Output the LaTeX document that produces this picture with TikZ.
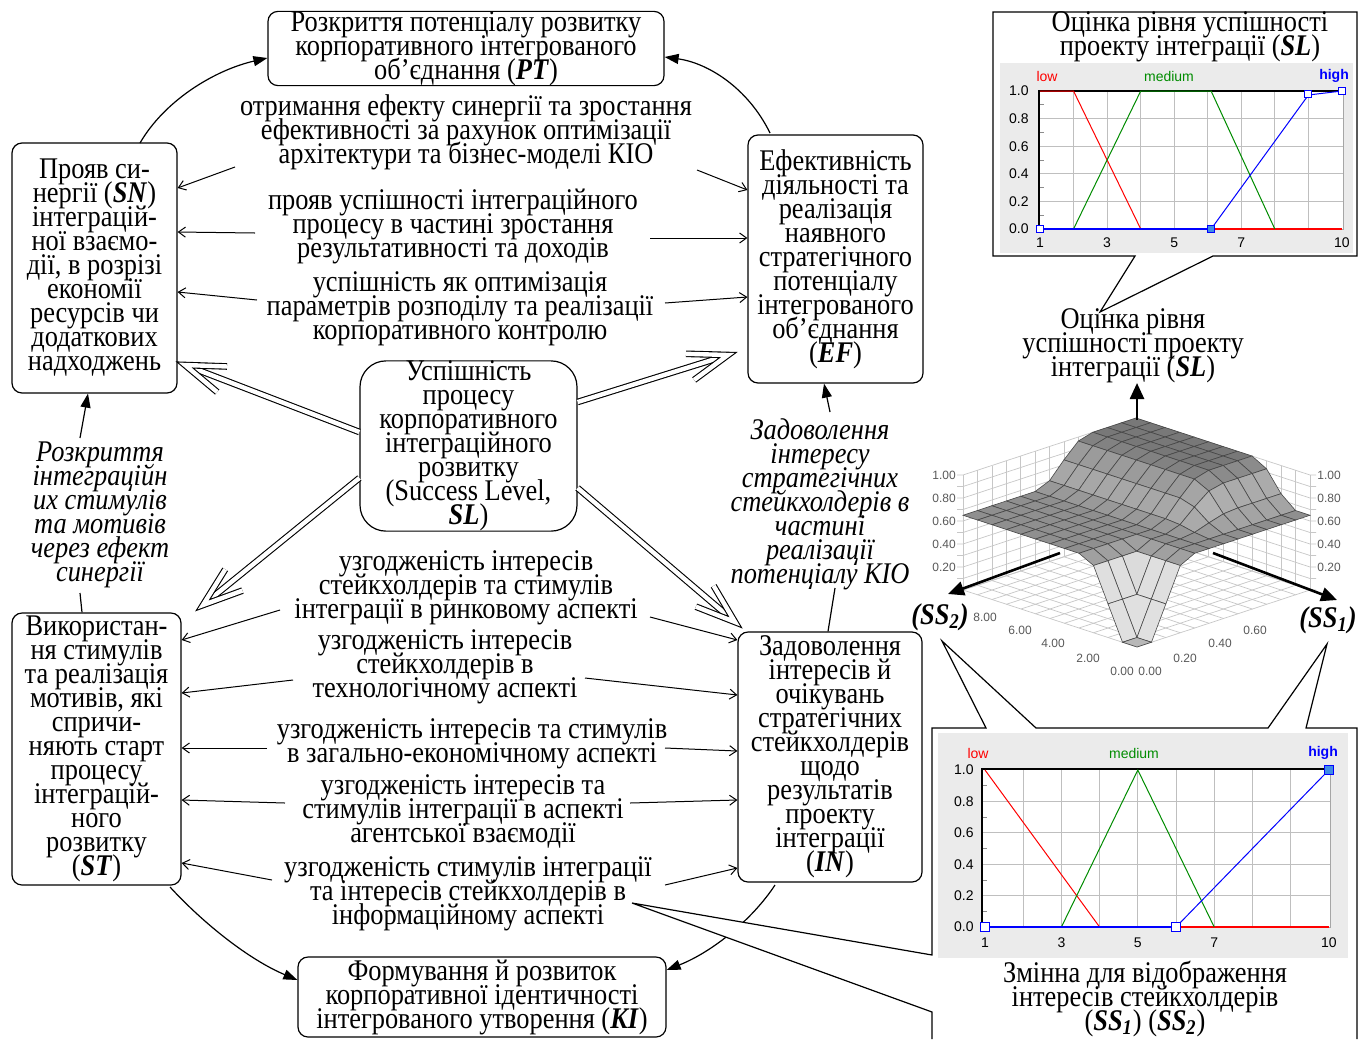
\documentclass[tikz,border=0pt]{standalone}
\usepackage{fontspec}
\setmainfont{Liberation Serif}[FakeStretch=0.88]
\newfontfamily\chartfont{Liberation Sans}
\usetikzlibrary{arrows.meta,calc}
\newcommand\bi[1]{\textbf{\textit{#1}}}
\newcommand\fb{\fontsize{15}{12}\selectfont\lineskiplimit=-\maxdimen\lineskip=0pt\relax}
\def\huA{{0,0,0,0,0,0,0.15,0.55,0.9,1,1,1,1}}
\def\hvA{{0,0,0.3,0.8,1,1,1,1,1,1,1,1,1}}
\def\pA{{0,0,0.45,0.9,1,1,1,1,1,1,1,1,1}}
\newcommand\zval[3]{%
  \pgfmathtruncatemacro\tmpm{max(#2,#3)}%
  \pgfmathsetmacro#1{(0.65+0.35*\huA[#2]*\hvA[#3])*\pA[\tmpm]}%
}
\definecolor{mfred}{rgb}{1,0,0}
\definecolor{mfgreen}{rgb}{0,0.55,0}
\definecolor{mfblue}{rgb}{0,0,1}
\definecolor{mkfill}{rgb}{0.25,0.55,0.9}
\tikzset{
 box/.style={draw, line width=0.6pt, rounded corners=5pt, align=center, font=\fb, inner sep=0pt},
 lbl/.style={align=center, font=\fb, inner sep=1pt},
 ilbl/.style={align=center, font=\fb\itshape, inner sep=1pt},
 ar/.style={line width=0.5pt, -{Straight Barb[length=3.5pt,width=5pt]}},
 car/.style={line width=0.6pt, -{Triangle[length=7pt,width=5pt]}},
 dbl/.style={double, double distance=2.2pt, line width=0.55pt, line join=miter},
 grd/.style={black!22, line width=0.35pt},
 cgrid/.style={black!25, line width=0.4pt},
 ax3/.style={line width=1.3pt, -{Triangle[length=8pt,width=7pt]}},
 tk/.style={font=\chartfont\fontsize{6}{6}\selectfont, text=black!65, inner sep=0pt},
 ct/.style={font=\chartfont\fontsize{7}{7}\selectfont, inner sep=0pt},
 mk/.style={draw=mfblue, line width=0.5pt, fill=white, minimum size=3.5pt, inner sep=0pt, rectangle},
}
\begin{document}
\begin{tikzpicture}[x=0.5pt,y=-0.5pt]
\useasboundingbox (0,0) rectangle (1368,1039);
\fill[white] (0,0) rectangle (1368,1039);

% ---------- main boxes ----------
\node[box, minimum width=198pt, minimum height=35.5pt] (PT) at (466,48.5) {Розкриття потенціалу розвитку\\корпоративного інтегрованого\\об'єднання (\bi{PT})};
\node[box, minimum width=82.5pt, minimum height=125pt] (SN) at (94.5,268) {Прояв си-\\нергії (\bi{SN})\\інтеграцій-\\ної взаємо-\\дії, в розрізі\\економії\\ресурсів чи\\додаткових\\надходжень};
\node[box, minimum width=87.5pt, minimum height=124pt] (EF) at (835.5,259) {Ефективність\\діяльності та\\реалізація\\наявного\\стратегічного\\потенціалу\\інтегрованого\\об'єднання\\(\bi{EF})};
\node[box, rounded corners=13pt, minimum width=108.5pt, minimum height=84pt] (SL) at (468.5,446) {Успішність\\процесу\\корпоративного\\інтеграційного\\розвитку\\(Success Level,\\\bi{SL})};
\node[box, minimum width=84.5pt, minimum height=136pt] (ST) at (96.5,749) {Використан-\\ня стимулів\\та реалізація\\мотивів, які\\спричи-\\няють старт\\процесу\\інтеграцій-\\ного\\розвитку\\(\bi{ST})};
\node[box, minimum width=92pt, minimum height=125pt] (IN) at (830,757) {Задоволення\\інтересів й\\очікувань\\стратегічних\\стейкхолдерів\\щодо\\результатів\\проекту\\інтеграції\\(\bi{IN})};
\node[box, minimum width=184pt, minimum height=40pt] (KI) at (482,997) {Формування й розвиток\\корпоративної ідентичності\\інтегрованого утворення (\bi{KI})};

% ---------- labels ----------
\node[lbl] (L1) at (466,132) {отримання ефекту синергії та зростання\\ефективності за рахунок оптимізації\\архітектури та бізнес-моделі КІО};
\node[lbl] (L2) at (453,226) {прояв успішності інтеграційного\\процесу в частині зростання\\результативності та доходів};
\node[lbl] (L3) at (460,309) {успішність як оптимізація\\параметрів розподілу та реалізації\\корпоративного контролю};
\node[ilbl] (L4) at (100,515) {Розкриття\\інтеграційн\\их стимулів\\та мотивів\\через ефект\\синергії};
\node[ilbl] (L5) at (820,504) {Задоволення\\інтересу\\стратегічних\\стейкхолдерів в\\частині\\реалізації\\потенціалу КІО};
\node[lbl] (L6) at (466,588) {узгодженість інтересів\\стейкхолдерів та стимулів\\інтеграції в ринковому аспекті};
\node[lbl] (L7) at (445,667) {узгодженість інтересів\\стейкхолдерів в\\технологічному аспекті};
\node[lbl] (L8) at (472,744) {узгодженість інтересів та стимулів\\в загально-економічному аспекті};
\node[lbl] (L9) at (463,811) {узгодженість інтересів та\\стимулів інтеграції в аспекті\\агентської взаємодії};
\node[lbl] (L10) at (468,894) {узгодженість стимулів інтеграції\\та інтересів стейкхолдерів в\\інформаційному аспекті};

% ---------- thin arrows ----------
\draw[ar] (235,167) -- (SN.east |- 0,188);
\draw[ar] (697,170) -- (EF.west |- 0,190);
\draw[ar] (255,233) -- (SN.east |- 0,232);
\draw[ar] (650,238) -- (EF.west |- 0,238);
\draw[ar] (257,300) -- (SN.east |- 0,292);
\draw[ar] (665,303) -- (EF.west |- 0,297);
\draw[ar] (280,610) -- (ST.east |- 0,640);
\draw[ar] (650,617) -- (IN.west |- 0,640);
\draw[ar] (293,680) -- (ST.east |- 0,693);
\draw[ar] (585,678) -- (IN.west |- 0,695);
\draw[ar] (267,748) -- (ST.east |- 0,748);
\draw[ar] (665,748) -- (IN.west |- 0,751);
\draw[ar] (285,803) -- (ST.east |- 0,800);
\draw[ar] (630,803) -- (IN.west |- 0,800);
\draw[ar] (272,880) -- (ST.east |- 0,863);
\draw[ar] (665,885) -- (IN.west |- 0,868);

% ---------- curved arrows ----------
\draw[car] (140,143) .. controls (165,100) and (215,70) .. (PT.west |- 0,58);
\draw[car] (770,133) .. controls (748,88) and (708,63) .. (PT.east |- 0,57);
\draw[car] (170,887) .. controls (205,925) and (250,960) .. (KI.west |- 0,980);
\draw[car] (775,885) .. controls (752,920) and (712,952) .. (KI.east |- 0,970);
\draw[car] (80,438) -- (SN.south -| 88,0);
\draw[car] (830,412) -- (EF.south -| 824,0);
\draw[line width=0.6pt] (80,593) -- (ST.north -| 82,0);
\draw[line width=0.6pt] (835,588) -- (IN.north -| 828,0);

% ---------- double arrows ----------
\coordinate (dSN) at (185,365);
\coordinate (dEF) at (728,355);
\coordinate (dST) at (203,605);
\coordinate (dIN) at (735,622);
\coordinate (tSN) at (SL.west |- 0,432);
\coordinate (tEF) at (SL.east |- 0,402);
\coordinate (tST) at (SL.west |- 0,478);
\coordinate (tIN) at (SL.east |- 0,488);
\foreach \t/\d in {tSN/dSN,tEF/dEF,tST/dST,tIN/dIN}{
 \draw[dbl, shorten >=2pt] (\t) -- (\d);
 \draw[dbl] ($(\d)!21pt!19:(\t)$) -- (\d) -- ($(\d)!21pt!-19:(\t)$);
}

% ---------- top chart ----------
\draw[line width=0.6pt, fill=white] (993,12) -- (1357,12) -- (1357,256) -- (1213,256) -- (1100,312) -- (1135,256) -- (993,256) -- cycle;
\node[lbl] (T1) at (1190,37) {Оцінка рівня успішності\\проекту інтеграції (\bi{SL})};
\fill[black!8] (1000,63) rectangle (1353,253);
\fill[white] (1039,91) rectangle (1343,229);
\foreach \k in {2,...,9} \draw[cgrid] ({1040+(\k-1)*33.55},91) -- ({1040+(\k-1)*33.55},229);
\foreach \k in {1,...,4} \draw[cgrid] (1039,{229-\k*27.6}) -- (1343,{229-\k*27.6});
\foreach \k in {1,3,5,7,9} \draw[black!45, line width=0.4pt] (1039,{229-\k*13.8}) -- (1044,{229-\k*13.8});
\draw[black!35, line width=0.5pt] (1343,91) -- (1343,229) -- (1039,229);
\draw[line width=1.1pt] (1039,229) -- (1039,91) -- (1343,91);
\draw[mfred, line width=0.5pt] (1040,91) -- (1073.5,91) -- (1140.7,229);
\draw[mfred, line width=1pt] (1140.7,229) -- (1342,229);
\draw[mfgreen, line width=0.5pt] (1073.5,229) -- (1140.7,91) -- (1211.1,91) -- (1274.8,229);
\draw[mfblue, line width=1pt] (1040,229) -- (1211.1,229);
\draw[mfblue, line width=0.5pt] (1211.1,229) -- (1308.4,95) -- (1342,91);
\node[mk] at (1040,229) {};
\node[mk, fill=mkfill] at (1211.1,229) {};
\node[mk] at (1308.4,94) {};
\node[mk] at (1342,91) {};
\node[ct, text=mfred] at (1047,76) {low};
\node[ct, text=mfgreen] at (1169,76) {medium};
\node[ct, text=mfblue, font=\chartfont\fontsize{7}{7}\selectfont\bfseries] at (1334,76) {high};
\foreach \v/\t in {0/0.0,1/0.2,2/0.4,3/0.6,4/0.8,5/1.0} \node[ct, anchor=east] at (1029,{229-\v*27.6}) {\t};
\foreach \v in {1,3,5,7,10} \node[ct] at ({1040+(\v-1)*33.55},243) {\v};

% ---------- 3D surface ----------
\node[lbl] (T2) at (1133,346) {Оцінка рівня\\успішності проекту\\інтеграції (\bi{SL})};
\foreach \k in {0,...,12}{
 \draw[grd] ({1137+173*\k/12},{647-57*\k/12}) -- ({1137+173*\k/12-174},{647-57*\k/12-57});
 \draw[grd] ({1137-174*\k/12},{647-57*\k/12}) -- ({1137+173-174*\k/12},{647-57-57*\k/12});
 \draw[grd] ({963+173*\k/12},{590-57*\k/12}) -- ({963+173*\k/12},{475-57*\k/12});
 \draw[grd] ({1310-174*\k/12},{590-57*\k/12}) -- ({1310-174*\k/12},{475-57*\k/12});
}
\foreach \m in {0,...,10}{
 \draw[grd] (957,{590-11.5*\m}) -- (963,{590-11.5*\m}) -- (1136,{533-11.5*\m}) -- (1310,{590-11.5*\m}) -- (1316,{590-11.5*\m});
}
\foreach \zz/\t in {0.2/0.20,0.4/0.40,0.6/0.60,0.8/0.80,1/1.00}{
 \node[tk] at (944,{590-115*\zz}) {\t};
 \node[tk] at (1329,{590-115*\zz}) {\t};
}
\foreach \i in {11,10,...,0}{
 \foreach \j in {11,10,...,0}{
  \pgfmathtruncatemacro\ii{\i+1}
  \pgfmathtruncatemacro\jj{\j+1}
  \zval\za\i\j
  \zval\zb\ii\j
  \zval\zc\ii\jj
  \zval\zd\i\jj
  \pgfmathsetmacro\g{min(0.88,max(0.33,0.56-0.25*((\za+\zb+\zc+\zd)/4-0.65)+0.9*(\zc-\za)))}
  \definecolor{sc}{gray}{\g}
  \filldraw[fill=sc, draw=black!72, line width=0.3pt]
   ({1137+173*\i/12-174*\j/12},{647-57*(\i+\j)/12-115*\za}) --
   ({1137+173*\ii/12-174*\j/12},{647-57*(\ii+\j)/12-115*\zb}) --
   ({1137+173*\ii/12-174*\jj/12},{647-57*(\ii+\jj)/12-115*\zc}) --
   ({1137+173*\i/12-174*\jj/12},{647-57*(\i+\jj)/12-115*\zd}) -- cycle;
 }
}
\foreach \x/\y/\t in {985/617/8.00,1020/630/6.00,1053/643/4.00,1088/658/2.00,1122/671/0.00,1150/671/0.00,1185/658/0.20,1220/643/0.40,1255/630/0.60}
 \node[tk] at (\x,\y) {\t};
\coordinate (axZ) at (1137,383);
\coordinate (axL) at (948,594);
\coordinate (axR) at (1337,600);
\draw[ax3] (1137,420) -- (axZ);
\draw[ax3] (1060,553) -- (axL);
\draw[ax3] (1213,553) -- (axR);

% ---------- bottom chart ----------
\draw[line width=0.6pt, fill=white] (932,1039) -- (932,1012) -- (632,903) -- (932,955) -- (932,728) -- (986,728) -- (942,641) -- (1036,728) -- (1268,728) -- (1327,644) -- (1306,728) -- (1357,728) -- (1357,1039);
\node[font=\fb\bfseries\itshape, inner sep=1pt] (S2) at (940,617) {(\bi{SS\textsubscript{2}})};
\node[font=\fb\bfseries\itshape, inner sep=1pt] (S1) at (1328,620) {(\bi{SS\textsubscript{1}})};
\fill[black!8] (938,733) rectangle (1348,958);
\fill[white] (982,769) rectangle (1330,927);
\foreach \k in {2,...,9} \draw[cgrid] ({985+(\k-1)*38.2},769) -- ({985+(\k-1)*38.2},927);
\foreach \k in {1,...,4} \draw[cgrid] (982,{927-\k*31.4}) -- (1330,{927-\k*31.4});
\foreach \k in {1,3,5,7,9} \draw[black!45, line width=0.4pt] (982,{927-\k*15.7}) -- (987,{927-\k*15.7});
\draw[black!35, line width=0.5pt] (1330,769) -- (1330,927) -- (982,927);
\draw[line width=1.1pt] (982,927) -- (982,769) -- (1330,769);
\draw[mfred, line width=0.5pt] (985,770) -- (1099.6,927);
\draw[mfred, line width=1pt] (1176,927) -- (1328.8,927);
\draw[mfgreen, line width=0.5pt] (1061.4,927) -- (1137.8,770) -- (1214.2,927);
\draw[mfblue, line width=1pt] (985,927) -- (1176,927);
\draw[mfblue, line width=0.5pt] (1176,927) -- (1328.8,770);
\node[mk, minimum size=4.5pt] at (985,927) {};
\node[mk, minimum size=4.5pt] at (1176,927) {};
\node[mk, minimum size=4.5pt, fill=mkfill] at (1328.8,770) {};
\node[ct, text=mfred] at (978,753) {low};
\node[ct, text=mfgreen] at (1134,753) {medium};
\node[ct, text=mfblue, font=\chartfont\fontsize{7}{7}\selectfont\bfseries] at (1323,753) {high};
\foreach \v/\t in {0/0.0,1/0.2,2/0.4,3/0.6,4/0.8,5/1.0} \node[ct, anchor=east] at (974,{927-\v*31.4}) {\t};
\foreach \v in {1,3,5,7,10} \node[ct] at ({985+(\v-1)*38.2},943) {\v};
\node[lbl] (T3) at (1145,999) {Змінна для відображення\\інтересів стейкхолдерів\\(\bi{SS\textsubscript{1}}) (\bi{SS\textsubscript{2}})};
\end{tikzpicture}
\end{document}
